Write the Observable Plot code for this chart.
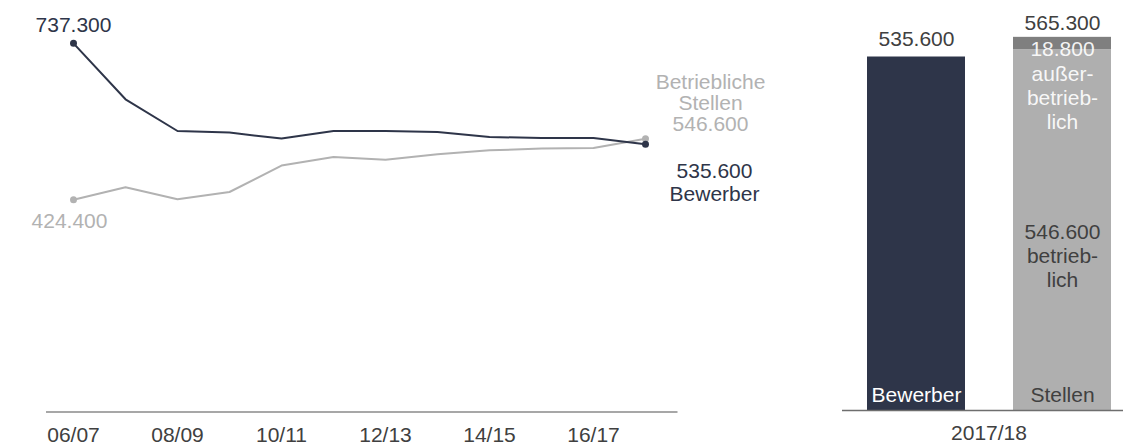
<!DOCTYPE html>
<html><head><meta charset="utf-8">
<script src="https://cdn.jsdelivr.net/npm/d3@7"></script>
<script src="https://cdn.jsdelivr.net/npm/@observablehq/plot@0.6"></script>
<style>
body{margin:0;background:#fff;}
#c{position:relative;width:1123px;height:445px;font-family:"Liberation Sans",Arial,sans-serif;}
#c svg{position:absolute;top:0;}
</style></head><body><div id="c"></div>
<script>
// ---- data ----
const years = ["06/07","07/08","08/09","09/10","10/11","11/12","12/13","13/14","14/15","15/16","16/17","17/18"];
const bewerber = [737300, 625400, 562000, 558800, 546800, 562000, 562000, 560000, 550000, 548000, 548000, 535600];
const stellen  = [424400, 449400, 425400, 440000, 492800, 510000, 504600, 515400, 523400, 526800, 528000, 546600];
const tickYears = ["06/07","08/09","10/11","12/13","14/15","16/17"];

const barYear = "2017/18";
const barTypes = ["Bewerber","Stellen","Stellen"];
const barParts = ["Bewerber","betrieblich","außerbetrieblich"];
const barValues = [535600, 546600, 18800];
const totalTypes = ["Bewerber","Stellen"];
const totalValues = [535600, 565300];

// ---- styles ----
const NAVY = "#2e3549", GREY = "#b2b2b2", BARGREY = "#afafaf", DARKGREY = "#7f7f7f", TEXT = "#404040";
const FONT = "'Liberation Sans', Arial, sans-serif";
const de = d3.formatLocale({decimal: ",", thousands: ".", grouping: [3], currency: ["", "€"]});
const fmt = de.format(",");

const n = years.length;
const bewData = years.map((yr, i) => ({year: yr, value: bewerber[i], i}));
const stData = years.map((yr, i) => ({year: yr, value: stellen[i], i}));
const first = d => d.i === 0, last = d => d.i === n - 1;

const W1 = 800;
const linePlot = Plot.plot({
  width: W1, height: 445,
  marginLeft: 46, marginRight: W1 - 677.5, marginTop: 10, marginBottom: 445 - 411.5,
  style: {fontFamily: FONT, fontSize: "21px", background: "transparent", overflow: "visible", color: TEXT},
  x: {type: "point", domain: years, range: [71, 647], padding: 0, label: null},
  y: {domain: [0, 800000], range: [411.5, 11.5], axis: null},
  marks: [
    Plot.ruleY([0], {stroke: "#8a8a8a", strokeWidth: 1.3}),
    Plot.axisX({ticks: tickYears, tickSize: 0, tickPadding: 15, fontSize: 21, label: null}),
    Plot.line(stData, {x: "year", y: "value", stroke: GREY, strokeWidth: 2}),
    Plot.line(bewData, {x: "year", y: "value", stroke: NAVY, strokeWidth: 2}),
    Plot.dot(stData.filter(d => first(d) || last(d)), {x: "year", y: "value", fill: GREY, r: 3.5}),
    Plot.dot(bewData.filter(d => first(d) || last(d)), {x: "year", y: "value", fill: NAVY, r: 3.5}),
    Plot.text(bewData.filter(first), {x: "year", y: "value", text: d => fmt(d.value), fill: NAVY, lineAnchor: "bottom", dy: -11, fontSize: 21}),
    Plot.text(stData.filter(first), {x: "year", y: "value", text: d => fmt(d.value), fill: GREY, lineAnchor: "top", dy: 13, dx: -4, fontSize: 21}),
    Plot.text(stData.filter(last), {x: "year", y: "value", text: d => "Betriebliche\nStellen\n" + fmt(d.value), fill: GREY, lineAnchor: "bottom", lineHeight: 1.0, dx: 65, dy: -8, fontSize: 21}),
    Plot.text(bewData.filter(last), {x: "year", y: "value", text: d => fmt(d.value) + "\nBewerber", fill: NAVY, lineAnchor: "top", lineHeight: 1.12, dx: 69, dy: 17, fontSize: 21})
  ]
});
linePlot.style.left = "0px";

// ---- bar chart ----
const barData = barValues.map((v, i) => ({year: barYear, type: barTypes[i], part: barParts[i], value: v}));
const totals = totalValues.map((v, i) => ({year: barYear, type: totalTypes[i], total: v}));
const betr = barData.find(d => d.part === "betrieblich");
const ausser = barData.find(d => d.part === "außerbetrieblich");
const stackTop = d3.sum(barData.filter(d => d.type === "Stellen"), d => d.value);

const W2 = 281;
const barPlot = Plot.plot({
  width: W2, height: 445,
  marginLeft: 24, marginRight: 12, marginTop: 14, marginBottom: 35,
  style: {fontFamily: FONT, fontSize: "21px", background: "transparent", overflow: "visible", color: TEXT},
  fx: {domain: [barYear], padding: 0, label: null, axis: "bottom", tickSize: 0, tickPadding: 15},
  x: {domain: ["Bewerber", "Stellen"], paddingInner: 0.33, paddingOuter: 0, axis: null},
  y: {domain: [0, 600000], range: [410, 14], axis: null},
  color: {domain: barParts, range: [NAVY, BARGREY, DARKGREY]},
  marks: [
    Plot.barY(barData, {fx: "year", x: "type", y: "value", fill: "part"}),
    Plot.ruleY([0], {stroke: "#6e6e6e", strokeWidth: 1.3, insetLeft: -24, insetRight: -12}),
    Plot.text(totals.filter(d => d.type === "Bewerber"), {fx: "year", x: "type", y: "total", text: d => fmt(d.total), fill: TEXT, lineAnchor: "bottom", dy: -11, fontSize: 21}),
    Plot.text(totals.filter(d => d.type === "Stellen"), {fx: "year", x: "type", y: () => stackTop, text: d => fmt(d.total), fill: TEXT, lineAnchor: "bottom", dy: -7, fontSize: 21}),
    Plot.text([ausser], {fx: "year", x: "type", y: () => stackTop, text: d => fmt(d.value) + "\naußer-\nbetrieb-\nlich", fill: "#ffffff", fillOpacity: 0.92, lineAnchor: "top", lineHeight: 1.15, dy: 2, fontSize: 21}),
    Plot.text([betr], {fx: "year", x: "type", y: d => d.value / 2, text: d => fmt(d.value) + "\nbetrieb-\nlich", fill: TEXT, lineAnchor: "middle", lineHeight: 1.15, dy: 25, fontSize: 21}),
    Plot.text(["Bewerber"], {fx: () => barYear, x: d => d, y: () => 0, text: d => d, fill: "#ffffff", lineAnchor: "bottom", dy: -9, fontSize: 21}),
    Plot.text(["Stellen"], {fx: () => barYear, x: d => d, y: () => 0, text: d => d, fill: TEXT, lineAnchor: "bottom", dy: -9, fontSize: 21})
  ]
});
barPlot.style.left = "842px";

const c = document.getElementById("c");
c.appendChild(linePlot);
c.appendChild(barPlot);
</script>
</body></html>
